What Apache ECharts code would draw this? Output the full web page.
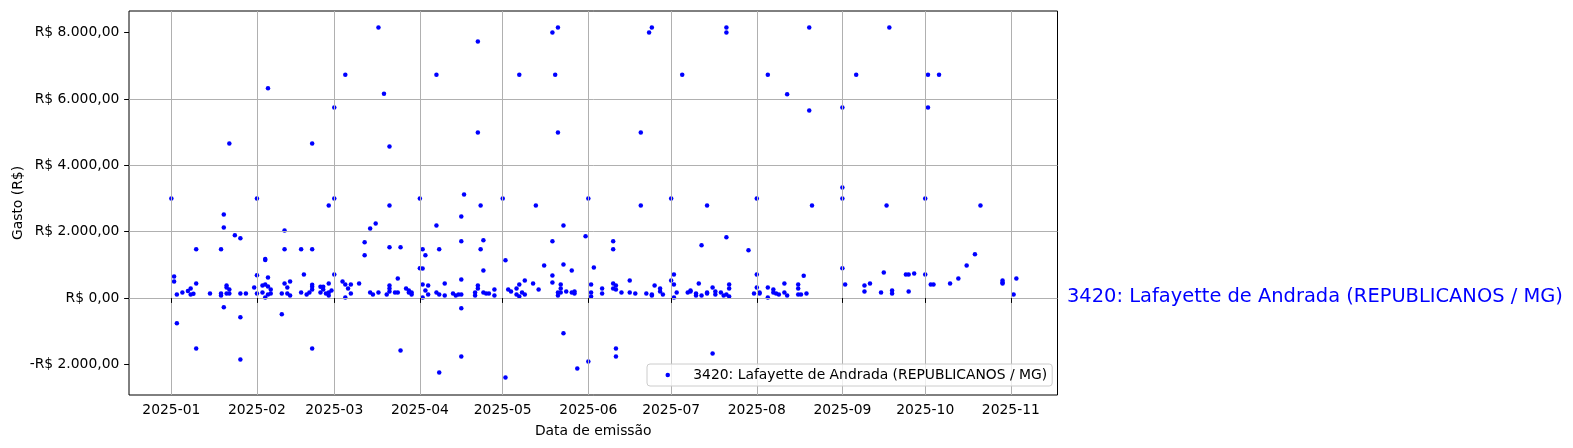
<!DOCTYPE html>
<html><head><meta charset="utf-8">
<script src="https://cdn.jsdelivr.net/npm/echarts@6/dist/echarts.min.js"></script>
<style>html,body{margin:0;padding:0;background:#fff}#c{width:1573px;height:448px}</style>
</head><body><div id="c"></div>
<script>
const seriesName = '3420: Lafayette de Andrada (REPUBLICANOS / MG)';
const xTitle = 'Data de emissão';
const yTitle = 'Gasto (R$)';
const monthTicks = ['2025-01','2025-02','2025-03','2025-04','2025-05','2025-06','2025-07','2025-08','2025-09','2025-10','2025-11'];
const yTicks = [-2000, 0, 2000, 4000, 6000, 8000];

const dates = [
'2025-01-01','2025-01-02','2025-01-02','2025-01-03','2025-01-03','2025-01-05','2025-01-07','2025-01-08','2025-01-08','2025-01-09',
'2025-01-10','2025-01-10','2025-01-10','2025-01-15','2025-01-19','2025-01-19','2025-01-19','2025-01-20','2025-01-20','2025-01-20',
'2025-01-21','2025-01-21','2025-01-21','2025-01-22','2025-01-22','2025-01-22','2025-01-24','2025-01-26','2025-01-26','2025-01-26',
'2025-01-26','2025-01-28','2025-01-31',
'2025-02-01','2025-02-01','2025-02-01','2025-02-03','2025-02-03','2025-02-04','2025-02-04','2025-02-04','2025-02-04','2025-02-05',
'2025-02-05','2025-02-05','2025-02-05','2025-02-06','2025-02-06','2025-02-10','2025-02-10','2025-02-11','2025-02-11','2025-02-11',
'2025-02-12','2025-02-12','2025-02-13','2025-02-13','2025-02-17','2025-02-17','2025-02-18','2025-02-19','2025-02-20','2025-02-21',
'2025-02-21','2025-02-21','2025-02-21','2025-02-21','2025-02-21','2025-02-24','2025-02-24','2025-02-25','2025-02-25','2025-02-26',
'2025-02-27','2025-02-27','2025-02-27','2025-02-27','2025-02-28',
'2025-03-01','2025-03-01','2025-03-01','2025-03-04','2025-03-05','2025-03-05','2025-03-05','2025-03-06','2025-03-07','2025-03-07',
'2025-03-10','2025-03-12','2025-03-12','2025-03-14','2025-03-14','2025-03-15','2025-03-16','2025-03-17','2025-03-17','2025-03-19',
'2025-03-20','2025-03-21','2025-03-21','2025-03-21','2025-03-21','2025-03-21','2025-03-21','2025-03-23','2025-03-24','2025-03-24',
'2025-03-25','2025-03-25','2025-03-27','2025-03-28','2025-03-28','2025-03-29','2025-03-29',
'2025-04-01','2025-04-01','2025-04-02','2025-04-02','2025-04-02','2025-04-02','2025-04-03','2025-04-03','2025-04-04','2025-04-04',
'2025-04-07','2025-04-07','2025-04-07','2025-04-08','2025-04-08','2025-04-08','2025-04-10','2025-04-10','2025-04-13','2025-04-14',
'2025-04-15','2025-04-16','2025-04-16','2025-04-16','2025-04-16','2025-04-16','2025-04-16','2025-04-17','2025-04-21','2025-04-21',
'2025-04-22','2025-04-22','2025-04-22','2025-04-22','2025-04-23','2025-04-23','2025-04-24','2025-04-24','2025-04-24','2025-04-25',
'2025-04-26','2025-04-28','2025-04-28',
'2025-05-01','2025-05-02','2025-05-02','2025-05-03','2025-05-04','2025-05-06','2025-05-06','2025-05-07','2025-05-07','2025-05-07',
'2025-05-08','2025-05-09','2025-05-09','2025-05-12','2025-05-13','2025-05-14','2025-05-16','2025-05-19','2025-05-19','2025-05-19',
'2025-05-19','2025-05-20','2025-05-21','2025-05-21','2025-05-21','2025-05-21','2025-05-22','2025-05-22','2025-05-22','2025-05-23',
'2025-05-23','2025-05-23','2025-05-24','2025-05-26','2025-05-26','2025-05-27','2025-05-27','2025-05-28','2025-05-31',
'2025-06-01','2025-06-01','2025-06-02','2025-06-02','2025-06-02','2025-06-03','2025-06-06','2025-06-06','2025-06-10','2025-06-10',
'2025-06-10','2025-06-10','2025-06-11','2025-06-11','2025-06-11','2025-06-11','2025-06-13','2025-06-16','2025-06-16','2025-06-18',
'2025-06-20','2025-06-20','2025-06-22','2025-06-23','2025-06-24','2025-06-24','2025-06-24','2025-06-25','2025-06-27','2025-06-27',
'2025-06-28',
'2025-07-01','2025-07-01','2025-07-02','2025-07-02','2025-07-02','2025-07-03','2025-07-05','2025-07-07','2025-07-08','2025-07-08',
'2025-07-10','2025-07-10','2025-07-11','2025-07-12','2025-07-12','2025-07-14','2025-07-14','2025-07-14','2025-07-16','2025-07-16',
'2025-07-17','2025-07-17','2025-07-19','2025-07-20','2025-07-21','2025-07-21','2025-07-21','2025-07-21','2025-07-22','2025-07-22',
'2025-07-22','2025-07-29','2025-07-31',
'2025-08-01','2025-08-01','2025-08-01','2025-08-02','2025-08-02','2025-08-05','2025-08-05','2025-08-05','2025-08-07','2025-08-07',
'2025-08-08','2025-08-09','2025-08-11','2025-08-11','2025-08-12','2025-08-12','2025-08-16','2025-08-16','2025-08-16','2025-08-17',
'2025-08-18','2025-08-19','2025-08-20','2025-08-20','2025-08-21',
'2025-09-01','2025-09-01','2025-09-01','2025-09-01','2025-09-02','2025-09-06','2025-09-09','2025-09-09','2025-09-11','2025-09-15',
'2025-09-16','2025-09-17','2025-09-18','2025-09-19','2025-09-19','2025-09-24','2025-09-25','2025-09-25','2025-09-27',
'2025-10-01','2025-10-01','2025-10-02','2025-10-02','2025-10-03','2025-10-04','2025-10-06','2025-10-10','2025-10-13','2025-10-16',
'2025-10-19','2025-10-21','2025-10-29','2025-10-29','2025-10-29',
'2025-11-02','2025-11-03'
];

const values = [
3000,650,500,110,-760,170,210,290,110,130,
1470,440,-1520,140,1470,140,80,2520,2130,-280,
380,320,140,4660,260,140,1890,1800,140,-580,
-1850,140,320,
3000,690,140,380,170,1180,1150,410,20,6320,
620,350,110,260,140,140,-490,2040,1470,440,
320,140,500,80,1470,170,710,110,170,4660,
1470,400,340,260,-1520,340,170,340,260,140,
2790,440,170,80,230,
5740,3000,710,500,6730,410,20,290,410,140,
440,1680,1290,2100,170,110,2250,8150,170,6160,
110,4570,2790,1530,380,290,200,170,590,170,
1530,-1580,290,230,170,110,170,
3000,900,1470,890,410,20,1290,230,380,110,
6730,2190,170,1470,110,-2240,440,80,140,80,
110,2460,1710,560,110,-310,-1760,3120,170,80,
7730,4990,380,290,2790,1470,1740,830,170,140,
140,260,80,
3000,1140,-2390,260,200,290,110,6730,410,50,
170,530,110,440,2790,260,985,8000,1710,680,
470,6730,8150,4990,170,80,410,290,170,2190,
1010,-1060,200,830,170,200,140,-2120,1860,
3000,-1910,410,170,50,925,290,140,1710,1470,
440,290,380,260,-1520,-1760,170,530,170,140,
4990,2790,140,8000,8150,110,80,380,290,200,
110,
3000,530,710,410,20,170,6730,170,200,230,
140,80,440,1590,80,2790,170,140,320,-1670,
200,110,170,80,8150,8000,1830,110,410,290,
50,1440,140,
3000,710,320,170,140,6730,320,20,260,170,
140,110,440,170,6140,80,410,290,110,110,
670,140,8150,5650,2790,
5740,3330,3000,900,410,6730,380,200,440,170,
770,2790,8150,230,140,710,710,200,740,
3000,710,6730,5740,410,410,6730,440,590,985,
1320,2790,530,470,440,
110,590
];

const DAY = 86400000;
const t0 = Date.parse('2025-01-01');
const xMin = t0 - 15.33 * DAY;
const xMax = t0 + 320.9 * DAY;
const yMin = -2921;
const yMax = 8651;
const FONT = 'DejaVu Sans';
const FS = 13.89;

function brl(v) {
  const neg = v < 0;
  const s = Math.abs(v).toFixed(0).replace(/\B(?=(\d{3})+(?!\d))/g, '.');
  return (neg ? '-' : '') + 'R$ ' + s + ',00';
}
const tickTimes = monthTicks.map(m => Date.parse(m + '-01'));
function xLabel(v) {
  const i = tickTimes.indexOf(+v);
  return i >= 0 ? monthTicks[i] : '';
}
const points = dates.map((d, i) => [Date.parse(d), values[i]]);

const chart = echarts.init(document.getElementById('c'), null, {renderer: 'canvas'});
chart.setOption({
  useUTC: true,
  animation: false,
  backgroundColor: '#ffffff',
  textStyle: {fontFamily: FONT},
  grid: {left: 129, right: 515.5, top: 11, bottom: 53, containLabel: false, outerBoundsMode: 'none',
         show: true, borderColor: '#000', borderWidth: 1, backgroundColor: 'transparent'},
  legend: {
    left: 647, top: 364,
    data: [{name: seriesName, icon: 'circle'}],
    itemWidth: 41, itemHeight: 4.5,
    padding: [4, 5, 4, 18.5],
    backgroundColor: 'rgba(255,255,255,0.8)',
    borderColor: '#cccccc', borderWidth: 1, borderRadius: 3,
    textStyle: {fontFamily: FONT, fontSize: FS, color: '#000'}
  },
  xAxis: {
    type: 'time', min: xMin, max: xMax, z: 3,
    splitNumber: 11, minInterval: 28 * DAY, maxInterval: 31 * DAY,
    name: xTitle, nameLocation: 'middle', nameGap: 29, nameMoveOverlap: false,
    nameTextStyle: {fontFamily: FONT, fontSize: FS, color: '#000'},
    axisLine: {show: false},
    axisTick: {show: true, length: 4.86, lineStyle: {color: '#000', width: 1}},
    axisLabel: {formatter: v => xLabel(v), margin: 8.5, fontFamily: FONT, fontSize: FS, color: '#000', hideOverlap: false, showMinLabel: false, showMaxLabel: false},
    splitLine: {show: true, showMinLine: false, showMaxLine: false, lineStyle: {color: '#b0b0b0', width: 1}}
  },
  yAxis: {
    type: 'value', min: yMin, max: yMax, splitNumber: 5, z: 3,
    name: yTitle, nameLocation: 'middle', nameGap: 104, nameRotate: 90, nameMoveOverlap: false,
    nameTextStyle: {fontFamily: FONT, fontSize: FS, color: '#000'},
    axisLine: {show: false},
    axisTick: {show: true, length: 4.86, lineStyle: {color: '#000', width: 1}, customValues: yTicks},
    axisLabel: {customValues: yTicks, formatter: v => brl(v), margin: 9.7, fontFamily: FONT, fontSize: FS, color: '#000'},
    splitLine: {show: true, showMinLine: false, showMaxLine: false, lineStyle: {color: '#b0b0b0', width: 1}}
  },
  series: [{
    name: seriesName, type: 'scatter', z: 2,
    symbol: 'circle', symbolSize: 4.5,
    itemStyle: {color: '#0000ff', opacity: 1},
    data: points
  }],
  graphic: [{
    type: 'text', x: 1067, y: 297,
    style: {text: seriesName, fill: '#0000ff', fontFamily: FONT, fontSize: 19.44, align: 'left', verticalAlign: 'middle'}
  }]
});
</script></body></html>
